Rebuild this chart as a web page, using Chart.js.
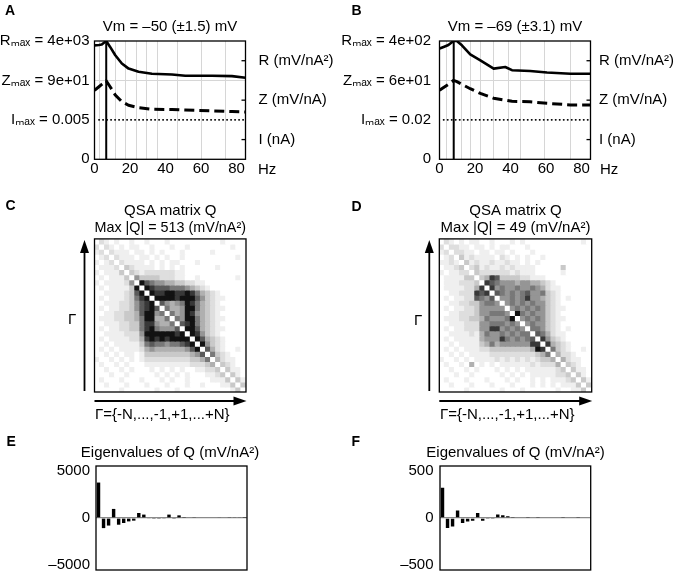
<!DOCTYPE html>
<html lang="en">
<head>
<meta charset="utf-8">
<title>QSA figure</title>
<script src="https://cdn.jsdelivr.net/npm/chart.js@4.4.1/dist/chart.umd.min.js"></script>
<style>
  html, body { margin: 0; padding: 0; background: #fff; }
  #fig { position: relative; width: 680px; height: 575px; overflow: hidden; background: #fff;
         font-family: "Liberation Sans", "Noto Sans", "DejaVu Sans", Arial, sans-serif; color: #000; }
  #fig canvas { position: absolute; }
  .t { position: absolute; line-height: 1; white-space: nowrap; font-size: 15px; }
  .p { position: absolute; line-height: 1; font-size: 14px; font-weight: bold; }
</style>
</head>
<body>
<div id="fig">
  <canvas id="cA" width="340" height="190" style="left:0px;top:0px"></canvas>
  <canvas id="cB" width="360" height="190" style="left:335px;top:0px"></canvas>
  <canvas id="cC" width="340" height="230" style="left:0px;top:190px"></canvas>
  <canvas id="cD" width="340" height="230" style="left:340px;top:190px"></canvas>
  <canvas id="cE" width="340" height="145" style="left:0px;top:430px"></canvas>
  <canvas id="cF" width="340" height="145" style="left:340px;top:430px"></canvas>

  <div class="p" style="left:5px;top:3px">A</div>
  <div class="p" style="left:351.5px;top:3px">B</div>
  <div class="p" style="left:5.5px;top:197.5px">C</div>
  <div class="p" style="left:351.5px;top:199px">D</div>
  <div class="p" style="left:6.5px;top:434px">E</div>
  <div class="p" style="left:351.5px;top:434px">F</div>

  <div class="t" style="left:258px;top:161px">Hz</div>
  <div class="t" style="left:600px;top:161px">Hz</div>
  <div class="t" style="left:68px;top:311px">Γ</div>
  <div class="t" style="left:414px;top:312px">Γ</div>
  <div class="t" style="left:95px;top:406px">Γ={-N,...,-1,+1,...+N}</div>
  <div class="t" style="left:440px;top:406px">Γ={-N,...,-1,+1,...+N}</div>
</div>
<script>
const FONT = '"Liberation Sans", "Noto Sans", "DejaVu Sans", Arial, sans-serif';
Chart.defaults.font.family = FONT;
Chart.defaults.font.size = 15;
Chart.defaults.color = '#000';

// ---------- shared axis data (panels A, B) ----------
const xTickVals = [0, 20, 40, 60, 80];
const xMax = 85;
const levelTicks = [0, 1, 2, 3];
const unitTicks = [0.5, 1.5, 2.5];
const unitLabels = ['I (nA)', 'Z (mV/nA)', 'R (mV/nA²)'];

// ---------- panel A ----------
const titleA = 'Vm = –50 (±1.5) mV';
const freqA = [0, 2.5, 4.1, 6.6, 8.8, 11.7, 15.4, 19.2, 24.8, 32.3, 43.6, 51.1, 66.2, 77.4, 85];
const resA  = [2.89, 2.90, 2.91, 3.00, 2.85, 2.64, 2.43, 2.30, 2.22, 2.17, 2.15, 2.12, 2.12, 2.11, 2.07];
const impA  = [1.75, 1.84, 1.90, 1.99, 1.84, 1.63, 1.46, 1.37, 1.31, 1.27, 1.26, 1.25, 1.23, 1.21, 1.20];
const curA  = [null, 1, 1, 1, 1, 1, 1, 1, 1, 1, 1, 1, 1, 1, 1];
const fResA = 6.6;
const gridA = [2.7, 11.7, 17.3, 23.5, 29, 35.5, 47, 60.5, 74];
const levelLabelsA = ['0', 'Iₘₐₓ = 0.005', 'Zₘₐₓ = 9e+01', 'Rₘₐₓ = 4e+03'];

// ---------- panel B ----------
const titleB = 'Vm = –69 (±3.1) mV';
const freqB = [0, 2.3, 5, 7.9, 9.8, 12.6, 17.3, 23, 30.5, 37, 40.8, 51, 60.5, 73.7, 85];
const resB  = [2.81, 2.85, 2.90, 3.00, 3.00, 2.89, 2.66, 2.51, 2.30, 2.34, 2.26, 2.24, 2.20, 2.17, 2.17];
const impB  = [1.75, 1.82, 1.90, 2.00, 1.97, 1.90, 1.79, 1.67, 1.55, 1.50, 1.47, 1.46, 1.42, 1.38, 1.38];
const curB  = [null, 1, 1, 1, 1, 1, 1, 1, 1, 1, 1, 1, 1, 1, 1];
const fResB = 8;
const gridB = [3.8, 12.6, 17.3, 23, 30.5, 39, 45.5, 59, 73.7];
const levelLabelsB = ['0', 'Iₘₐₓ = 0.02', 'Zₘₐₓ = 6e+01', 'Rₘₐₓ = 4e+02'];

// ---------- panels C, D : QSA matrices (grey level 0..9 per cell, row 0 at top) ----------
const GRAYS = ['#ffffff', '#efefef', '#dedede', '#c9c9c9', '#b0b0b0', '#959595', '#787878', '#5a5a5a', '#383838', '#121212'];
const titleC = ['QSA matrix Q', 'Max |Q| = 513 (mV/nA²)'];
const matrixC = [
  "0210100100 1000100000 0000010000",
  "2021010110 0100010010 0000000100",
  "1202111011 0101000100 0001000000",
  "0120211101 1010100100 0000000010",
  "1012021111 0101011000 1000000000",
  "0111203211 1101010100 0000100000",
  "1011130321 2222221100 0000000000",
  "0101113053 3332221100 1000000010",
  "1011112509 7655443322 1100000000",
  "0101111390 9877766654 3210000000",
  "0011112379 0988998898 6432100000",
  "0101112368 9099998999 7532110000",
  "0011122357 8907545698 6432100000",
  "0101122357 8970644599 6432110000",
  "0011223347 9956064598 5432100000",
  "0111223346 9944606599 6432110000",
  "0011122336 8854460789 6432100000",
  "0101122336 8965557099 7432110000",
  "0011112225 9999998909 8532100000",
  "0101111224 8989899990 9743210000",
  "0010111113 6766566789 0953210000",
  "0101011112 4544444457 9074210010",
  "0010101101 3333333334 5706321000",
  "1001010101 2222222223 3460421100",
  "0100101000 1111111112 2234032100",
  "0010010100 0101010100 1122303110",
  "0001001000 0010101010 0011230310",
  "0100010001 0001010010 0001113031",
  "0010001000 1000100010 0100011303",
  "0000010000 0010001000 0000000130"
];
const titleD = ['QSA matrix Q', 'Max |Q| = 49 (mV/nA²)'];
const matrixD = [
  "0210101100 1000101000 0000000010",
  "2022110110 1011000100 0000000000",
  "1202211011 0110100010 0000000000",
  "0120312111 1021010100 1000000000",
  "1121031211 2112110101 0000000000",
  "0112302312 1121211110 0000300000",
  "1011220322 2222121110 0000100000",
  "0111133034 8733332211 1000000000",
  "0111222308 7655545544 3210000000",
  "0111122480 8565565565 4211000000",
  "0011222878 0765656755 6321000000",
  "0101122765 7055656855 4321010000",
  "0011223356 6505656565 5321000000",
  "0101122355 5550565656 5321100000",
  "0011222355 6665096565 5321000000",
  "0111223346 5556905656 5321100000",
  "0011122255 6665650565 5321000000",
  "0101122255 8856565066 5321010000",
  "0011112146 5565656607 6421100000",
  "0101111145 5586565670 8532100000",
  "0010111134 6455555588 0843210000",
  "0101011122 3333333349 8063210010",
  "0010101111 2222222223 4604221000",
  "1001010111 1212121212 3340421100",
  "0100104010 1011111121 2224032100",
  "0010010100 0101010111 1112303110",
  "0001001000 0010101011 1112230310",
  "0100010001 0001010010 1011123031",
  "0010001000 1000100010 1010111303",
  "0000010000 0010001000 0001001130"
];

// ---------- panels E, F : eigenvalues ----------
const titleEig = 'Eigenvalues of Q (mV/nA²)';
const eigE = [3750, -1070, -800, 960, -710, -530, -360, -280, 530, 360, -80, -100, -100, -50, 360,
              -100, 280, 100, 70, 50, 70, 70, 0, 0, 60, 70, 50, 80, 80, 30];
const eigTicksE = [-5000, 0, 5000];
const eigLabelsE = ['–5000', '0', '5000'];
const eigLimE = 5500;
const eigF = [320, -107, -90, 79, -54, -36, -29, 54, -29, -11, -11, 36, 29, 18, 11,
              8, 0, 11, 7, 5, 0, 7, 0, 7, 5, 0, 7, 5, 0, 7];
const eigTicksF = [-500, 0, 500];
const eigLabelsF = ['–500', '0', '500'];
const eigLimF = 550;

// ---------- plugins ----------
const framePlugin = {
  id: 'frame',
  afterDatasetsDraw(chart, args, opts) {
    if (!opts || !opts.show) return;
    const { ctx, chartArea: a } = chart;
    ctx.save();
    ctx.strokeStyle = '#000';
    ctx.lineWidth = opts.lineWidth || 1.3;
    ctx.strokeRect(a.left, a.top, a.right - a.left, a.bottom - a.top);
    (opts.inner || []).forEach(spec => {
      const sc = chart.scales[spec.scale];
      sc.ticks.forEach(t => {
        const p = sc.getPixelForValue(t.value);
        ctx.beginPath();
        if (spec.side === 'right') { ctx.moveTo(a.right, p); ctx.lineTo(a.right - spec.len, p); }
        else { ctx.moveTo(a.left, p); ctx.lineTo(a.left + spec.len, p); }
        ctx.stroke();
      });
    });
    ctx.restore();
  }
};
const arrowPlugin = {
  id: 'axisArrows',
  afterDraw(chart, args, opts) {
    if (!opts || !opts.show) return;
    const { ctx, chartArea: a } = chart;
    const hl = opts.headLen, hw = opts.headHalf;
    ctx.save();
    ctx.strokeStyle = '#000'; ctx.fillStyle = '#000'; ctx.lineWidth = opts.lineWidth;
    const vx = a.left - opts.gapX, top = a.top + 1;
    ctx.beginPath(); ctx.moveTo(vx, a.bottom - 1); ctx.lineTo(vx, top + hl - 1); ctx.stroke();
    ctx.beginPath(); ctx.moveTo(vx, top); ctx.lineTo(vx - hw, top + hl); ctx.lineTo(vx + hw, top + hl); ctx.closePath(); ctx.fill();
    const hy = a.bottom + opts.gapY, right = a.right + 0.5;
    ctx.beginPath(); ctx.moveTo(a.left, hy); ctx.lineTo(right - hl + 1, hy); ctx.stroke();
    ctx.beginPath(); ctx.moveTo(right, hy); ctx.lineTo(right - hl, hy - hw); ctx.lineTo(right - hl, hy + hw); ctx.closePath(); ctx.fill();
    ctx.restore();
  }
};
Chart.register(framePlugin, arrowPlugin);

const NONE = 'rgba(0,0,0,0)';
const GRID = '#d6d6d6';

function curveChart(id, cfg) {
  const xTicks = Array.from(new Set(xTickVals.concat(cfg.grid))).sort((a, b) => a - b);
  const pts = ys => cfg.freq.map((f, i) => ({ x: f, y: ys[i] }));
  return new Chart(document.getElementById(id), {
    type: 'line',
    data: { datasets: [
      { data: pts(cfg.R), borderColor: '#000', borderWidth: 2.6, pointRadius: 0, tension: 0, borderJoinStyle: 'round' },
      { data: pts(cfg.Z), borderColor: '#000', borderWidth: 3, borderDash: [10, 5], pointRadius: 0, tension: 0 },
      { data: pts(cfg.I), borderColor: '#000', borderWidth: 1.7, borderDash: [0.3, 3.7], borderCapStyle: 'round', pointRadius: 0 },
      { data: [{ x: cfg.fRes, y: 0 }, { x: cfg.fRes, y: 3 }], borderColor: '#000', borderWidth: 2, pointRadius: 0 }
    ] },
    options: {
      responsive: false, animation: false, events: [],
      layout: { padding: { left: cfg.padL, right: 0, top: 0, bottom: 0 } },
      plugins: {
        legend: { display: false }, tooltip: { enabled: false },
        title: { display: true, text: cfg.title, color: '#000',
                 font: { size: 15, weight: 'normal', lineHeight: 1.2 }, padding: { top: 18, bottom: 5 } },
        frame: { show: true, lineWidth: 1.3, inner: [{ scale: 'y2', side: 'right', len: 4 }] }
      },
      scales: {
        x: { type: 'linear', min: 0, max: xMax,
             afterBuildTicks: s => { s.ticks = xTicks.map(v => ({ value: v })); },
             ticks: { autoSkip: false, maxRotation: 0, minRotation: 0, padding: 1,
                      callback: v => xTickVals.includes(v) ? String(v) : '' },
             grid: { drawTicks: false, lineWidth: 1,
                     color: c => (c.tick && cfg.grid.includes(c.tick.value)) ? GRID : NONE },
             border: { display: false },
             afterFit: s => { s.height = cfg.xH; s.paddingLeft = 0; s.paddingRight = 0; } },
        y: { type: 'linear', position: 'left', min: 0, max: 3,
             afterBuildTicks: s => { s.ticks = levelTicks.map(v => ({ value: v })); },
             ticks: { padding: cfg.yPad, callback: v => cfg.levels[levelTicks.indexOf(v)] },
             grid: { drawTicks: false, lineWidth: 1,
                     color: c => (c.tick && c.tick.value === 2) ? GRID : NONE },
             border: { display: false },
             afterFit: s => { s.width = cfg.yW; s.paddingTop = 0; s.paddingBottom = 0; } },
        y2: { type: 'linear', position: 'right', min: 0, max: 3,
              afterBuildTicks: s => { s.ticks = unitTicks.map(v => ({ value: v })); },
              ticks: { padding: cfg.y2Pad, callback: v => unitLabels[unitTicks.indexOf(v)] },
              grid: { display: false, drawTicks: false },
              border: { display: false },
              afterFit: s => { s.width = cfg.y2W; s.paddingTop = 0; s.paddingBottom = 0; } }
      }
    }
  });
}

function heatChart(id, rows, cfg) {
  const cells = rows.map(r => r.replace(/ /g, '').split('').map(Number));
  const n = cells.length;
  const cols = cells[0].map((_, i) => i);
  return new Chart(document.getElementById(id), {
    type: 'bar',
    data: { labels: cols, datasets: cells.map((row, r) => ({
      data: cols.map(() => [r, r + 1]),
      backgroundColor: row.map(v => GRAYS[v]),
      borderWidth: 0, inflateAmount: 0.6, barPercentage: 1, categoryPercentage: 1, grouped: false
    })) },
    options: {
      responsive: false, animation: false, events: [],
      layout: { padding: { left: cfg.padL, right: cfg.padR, top: 0, bottom: cfg.padB } },
      plugins: {
        legend: { display: false }, tooltip: { enabled: false },
        title: { display: true, text: cfg.title, color: '#000',
                 font: { size: 15, weight: 'normal', lineHeight: 1.13 }, padding: { top: 12.5, bottom: 2.5 } },
        frame: { show: true, lineWidth: 1.3 },
        axisArrows: { show: true, gapX: 10, gapY: 9, headLen: 13, headHalf: 4.5, lineWidth: 1.8 }
      },
      scales: {
        x: { display: false, offset: true },
        y: { display: false, min: 0, max: n, reverse: true }
      }
    }
  });
}

function eigChart(id, vals, cfg) {
  const labels = vals.map((_, i) => i + 1);
  return new Chart(document.getElementById(id), {
    type: 'bar',
    data: { labels, datasets: [{ data: vals, backgroundColor: '#000', borderWidth: 0,
                                 barPercentage: 0.68, categoryPercentage: 1 }] },
    options: {
      responsive: false, animation: false, events: [],
      layout: { padding: { left: cfg.padL, right: 0, top: 0, bottom: cfg.padB } },
      plugins: {
        legend: { display: false }, tooltip: { enabled: false },
        title: { display: true, text: titleEig, color: '#000',
                 font: { size: 15, weight: 'normal', lineHeight: 1.2 }, padding: { top: 14, bottom: 4 } },
        frame: { show: true, lineWidth: 1.3 }
      },
      scales: {
        x: { display: false, offset: true },
        y: { min: -cfg.lim, max: cfg.lim,
             afterBuildTicks: s => { s.ticks = cfg.ticks.map(v => ({ value: v })); },
             ticks: { padding: cfg.yPad, callback: v => cfg.labels[cfg.ticks.indexOf(v)] },
             grid: { drawTicks: false, lineWidth: 1.3,
                     color: c => (c.tick && c.tick.value === 0) ? '#8a8a8a' : NONE },
             border: { display: false },
             afterFit: s => { s.width = cfg.yW; s.paddingTop = 0; s.paddingBottom = 0; } },
        y2: { position: 'right', display: true, ticks: { display: false },
              grid: { display: false, drawTicks: false }, border: { display: false },
              afterFit: s => { s.width = cfg.y2W; s.paddingTop = 0; s.paddingBottom = 0; } }
      }
    }
  });
}

curveChart('cA', { title: titleA, freq: freqA, R: resA, Z: impA, I: curA, fRes: fResA, grid: gridA,
                   levels: levelLabelsA, padL: 0, yW: 94.5, yPad: 5, y2W: 94.5, y2Pad: 13, xH: 30.7 });
curveChart('cB', { title: titleB, freq: freqB, R: resB, Z: impB, I: curB, fRes: fResB, grid: gridB,
                   levels: levelLabelsB, padL: 0, yW: 104.5, yPad: 8.5, y2W: 104.5, y2Pad: 8.5, xH: 30.7 });
heatChart('cC', matrixC, { title: titleC, padL: 94.5, padR: 94, padB: 28 });
heatChart('cD', matrixD, { title: titleD, padL: 99.3, padR: 88.3, padB: 28 });
eigChart('cE', eigE, { ticks: eigTicksE, labels: eigLabelsE, lim: eigLimE, padL: 0, yW: 96, yPad: 6, y2W: 93, padB: 5 });
eigChart('cF', eigF, { ticks: eigTicksF, labels: eigLabelsF, lim: eigLimF, padL: 11, yW: 89, yPad: 6.5, y2W: 89.3, padB: 5 });
</script>
</body>
</html>
